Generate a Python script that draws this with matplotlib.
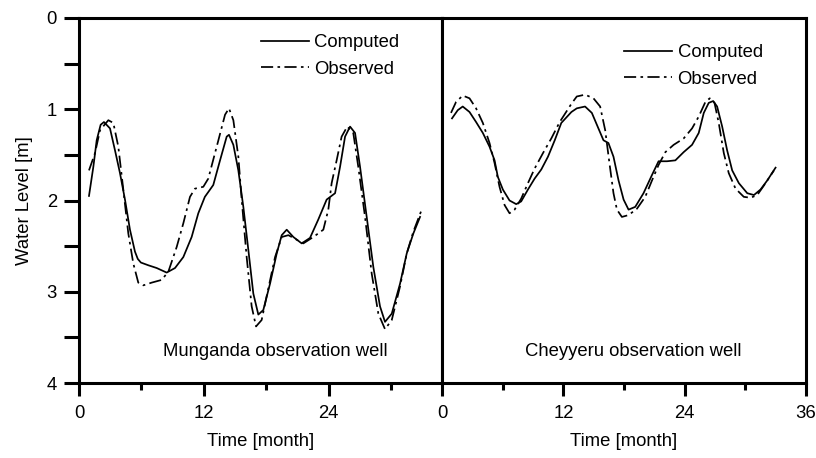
import numpy as np
import matplotlib
matplotlib.use('Agg')
import matplotlib.pyplot as plt
from matplotlib.ticker import MultipleLocator

plt.rcParams['font.family'] = ['Liberation Sans', 'DejaVu Sans']

# A. data =====================================================================

# Munganda observation well
mun_comp_t = [0.96, 1.38, 1.70, 2.08, 2.40, 2.98, 3.46, 3.94, 4.42, 4.90,
              5.38, 5.65, 5.95, 6.67, 7.47, 8.43, 9.23, 10.03, 10.83, 11.47,
              12.1, 12.6, 12.91, 13.56, 14.2, 14.42, 14.84, 15.32, 15.8, 16.28,
              16.76, 17.24, 17.72, 18.37, 19.01, 19.49, 19.97, 20.61, 21.41,
              22.21, 23.0, 23.81, 24.62, 25.1, 25.58, 26.06, 26.54, 27.02,
              27.66, 28.3, 28.94, 29.42, 30.07, 30.87, 31.51, 32.15, 32.79]
mun_comp_h = [1.95, 1.63, 1.34, 1.17, 1.14, 1.21, 1.45, 1.70, 1.99, 2.32,
              2.56, 2.64, 2.68, 2.71, 2.74, 2.79, 2.74, 2.62, 2.40, 2.14,
              1.96, 1.88, 1.83, 1.56, 1.30, 1.28, 1.39, 1.67, 2.07, 2.54,
              3.02, 3.25, 3.20, 2.91, 2.58, 2.38, 2.32, 2.40, 2.47,
              2.41, 2.21, 1.99, 1.92, 1.63, 1.30, 1.19, 1.26, 1.63,
              2.18, 2.73, 3.16, 3.33, 3.24, 2.91, 2.58, 2.36, 2.18]

mun_obs_t = [0.96, 1.54, 2.02, 2.82, 3.30, 3.78, 4.26, 4.74, 5.22, 5.70,
             6.18, 6.99, 7.95, 8.59, 9.39, 10.03, 10.67, 11.15, 11.95, 12.43,
             13.4, 14.04, 14.42, 14.84, 15.32, 15.64, 16.12, 16.6, 17.02,
             17.56, 18.04, 18.85, 19.49, 20.13, 20.93, 21.57, 22.53, 23.49,
             23.97, 24.29, 24.77, 25.25, 25.79, 26.37, 26.85, 27.5, 28.14,
             28.78, 29.42, 30.07, 30.87, 31.51, 32.15, 32.95]
mun_obs_h = [1.67, 1.48, 1.23, 1.12, 1.15, 1.41, 1.88, 2.36, 2.69, 2.90,
             2.93, 2.90, 2.87, 2.78, 2.51, 2.25, 1.96, 1.87, 1.85, 1.76,
             1.34, 1.06, 0.99, 1.12, 1.52, 1.99, 2.62, 3.16, 3.38,
             3.31, 3.05, 2.62, 2.40, 2.38, 2.43, 2.47, 2.40, 2.32,
             2.10, 1.81, 1.56, 1.30, 1.19, 1.26, 1.63, 2.18, 2.80,
             3.24, 3.41, 3.31, 2.94, 2.58, 2.34, 2.10]

# Cheyyeru observation well
che_comp_t = [0.99, 1.56, 2.05, 2.72, 3.37, 4.04, 4.7, 5.2, 5.52, 6.02,
              6.68, 7.34, 7.83, 8.5, 9.16, 9.82, 10.48, 11.15, 11.8, 12.8,
              13.33, 14.15, 14.82, 15.47, 15.97, 16.46, 16.96, 17.46, 17.96,
              18.45, 19.11, 19.93, 20.77, 21.42, 22.25, 23.08, 23.9, 24.73,
              25.39, 25.89, 26.38, 26.82, 27.21, 27.71, 28.2, 28.7, 29.36,
              30.19, 30.85, 31.5, 32.17, 32.99]
che_comp_h = [1.10, 1.01, 0.97, 1.03, 1.14, 1.26, 1.41, 1.56, 1.74, 1.88,
              2.00, 2.04, 2.01, 1.88, 1.76, 1.66, 1.52, 1.34, 1.15, 1.03,
              0.99, 0.97, 1.04, 1.21, 1.34, 1.37, 1.52, 1.78, 1.99,
              2.10, 2.07, 1.92, 1.72, 1.57, 1.57, 1.56, 1.47, 1.39,
              1.26, 1.04, 0.93, 0.91, 0.97, 1.19, 1.45, 1.67, 1.81,
              1.92, 1.94, 1.88, 1.78, 1.64]

che_obs_t = [0.89, 1.39, 2.05, 2.72, 3.37, 4.04, 4.7, 5.2, 5.69, 6.19,
             6.68, 7.18, 7.83, 8.5, 9.16, 9.99, 10.81, 11.64, 12.8, 13.33,
             14.15, 14.98, 15.64, 16.14, 16.56, 16.96, 17.3, 17.79, 18.45,
             19.28, 20.1, 20.77, 21.42, 22.09, 22.91, 23.9, 24.73, 25.39,
             26.05, 26.48, 26.95, 27.37, 27.87, 28.36, 29.03, 29.85, 30.52,
             31.18, 32.0, 32.83]
che_obs_h = [1.04, 0.92, 0.85, 0.88, 0.99, 1.15, 1.37, 1.59, 1.85, 2.05,
             2.14, 2.10, 1.98, 1.81, 1.65, 1.48, 1.32, 1.14, 0.94, 0.86,
             0.84, 0.88, 0.97, 1.23, 1.59, 1.92, 2.10, 2.18, 2.16,
             2.09, 1.96, 1.78, 1.61, 1.47, 1.39, 1.32, 1.21, 1.08,
             0.92, 0.88, 0.93, 1.15, 1.48, 1.70, 1.87, 1.96, 1.97,
             1.94, 1.81, 1.67]

well_names = ['Munganda observation well', 'Cheyyeru observation well']
x_major = [0, 12, 24, 36]

# B. figure ===================================================================

FS = 13.3
OBS_DASH = (0, (7, 2.5, 1.5, 2.5))

fig = plt.figure(figsize=(8.16, 4.58), dpi=100)
ax_l = fig.add_axes([79 / 816, 75 / 458, 363 / 816, 365 / 458])
ax_r = fig.add_axes([442 / 816, 75 / 458, 364 / 816, 365 / 458])

panels = [
    (ax_l, mun_comp_t, mun_comp_h, mun_obs_t, mun_obs_h, 34.9, well_names[0],
     (0.50, 0.955), 0.54),
    (ax_r, che_comp_t, che_comp_h, che_obs_t, che_obs_h, 36, well_names[1],
     (0.50, 0.928), 0.525),
]

for ax, ct, ch, ot, oh, xmax, name, leg_pos, name_x in panels:
    ax.plot(ct, ch, color='black', lw=1.25, label='Computed')
    ax.plot(ot, oh, color='black', lw=1.25, linestyle=OBS_DASH,
            label='Observed')
    ax.set_xlim(0, xmax)
    ax.set_ylim(4, 0)
    ax.xaxis.set_major_locator(MultipleLocator(12))
    ax.xaxis.set_minor_locator(MultipleLocator(6))
    for s in ax.spines.values():
        s.set_linewidth(2.2)
    ax.tick_params(axis='x', which='major', direction='out', length=9.5,
                   width=2.2, pad=6, labelsize=FS)
    ax.tick_params(axis='x', which='minor', direction='out', length=5,
                   width=2.2)
    ax.set_xlabel('Time [month]', fontsize=FS, labelpad=8)
    ax.text(name_x, 0.086, name, transform=ax.transAxes,
            ha='center', va='center', fontsize=FS)
    ax.legend(loc='upper left', bbox_to_anchor=leg_pos, frameon=False,
              fontsize=FS, handlelength=2.6, handletextpad=0.3,
              labelspacing=0.5, borderaxespad=0, borderpad=0)

ax_l.yaxis.set_major_locator(MultipleLocator(1))
ax_l.yaxis.set_minor_locator(MultipleLocator(0.5))
ax_l.tick_params(axis='y', which='both', direction='out', length=11,
                 width=2.2, pad=5, labelsize=FS)
ax_l.set_ylabel('Water Level [m]', fontsize=FS, labelpad=10)
ax_l.set_xticks([0, 12, 24])

ax_r.set_xticks(x_major)
ax_r.tick_params(axis='y', which='both', left=False, labelleft=False)

plt.savefig('out.png', dpi=100)
